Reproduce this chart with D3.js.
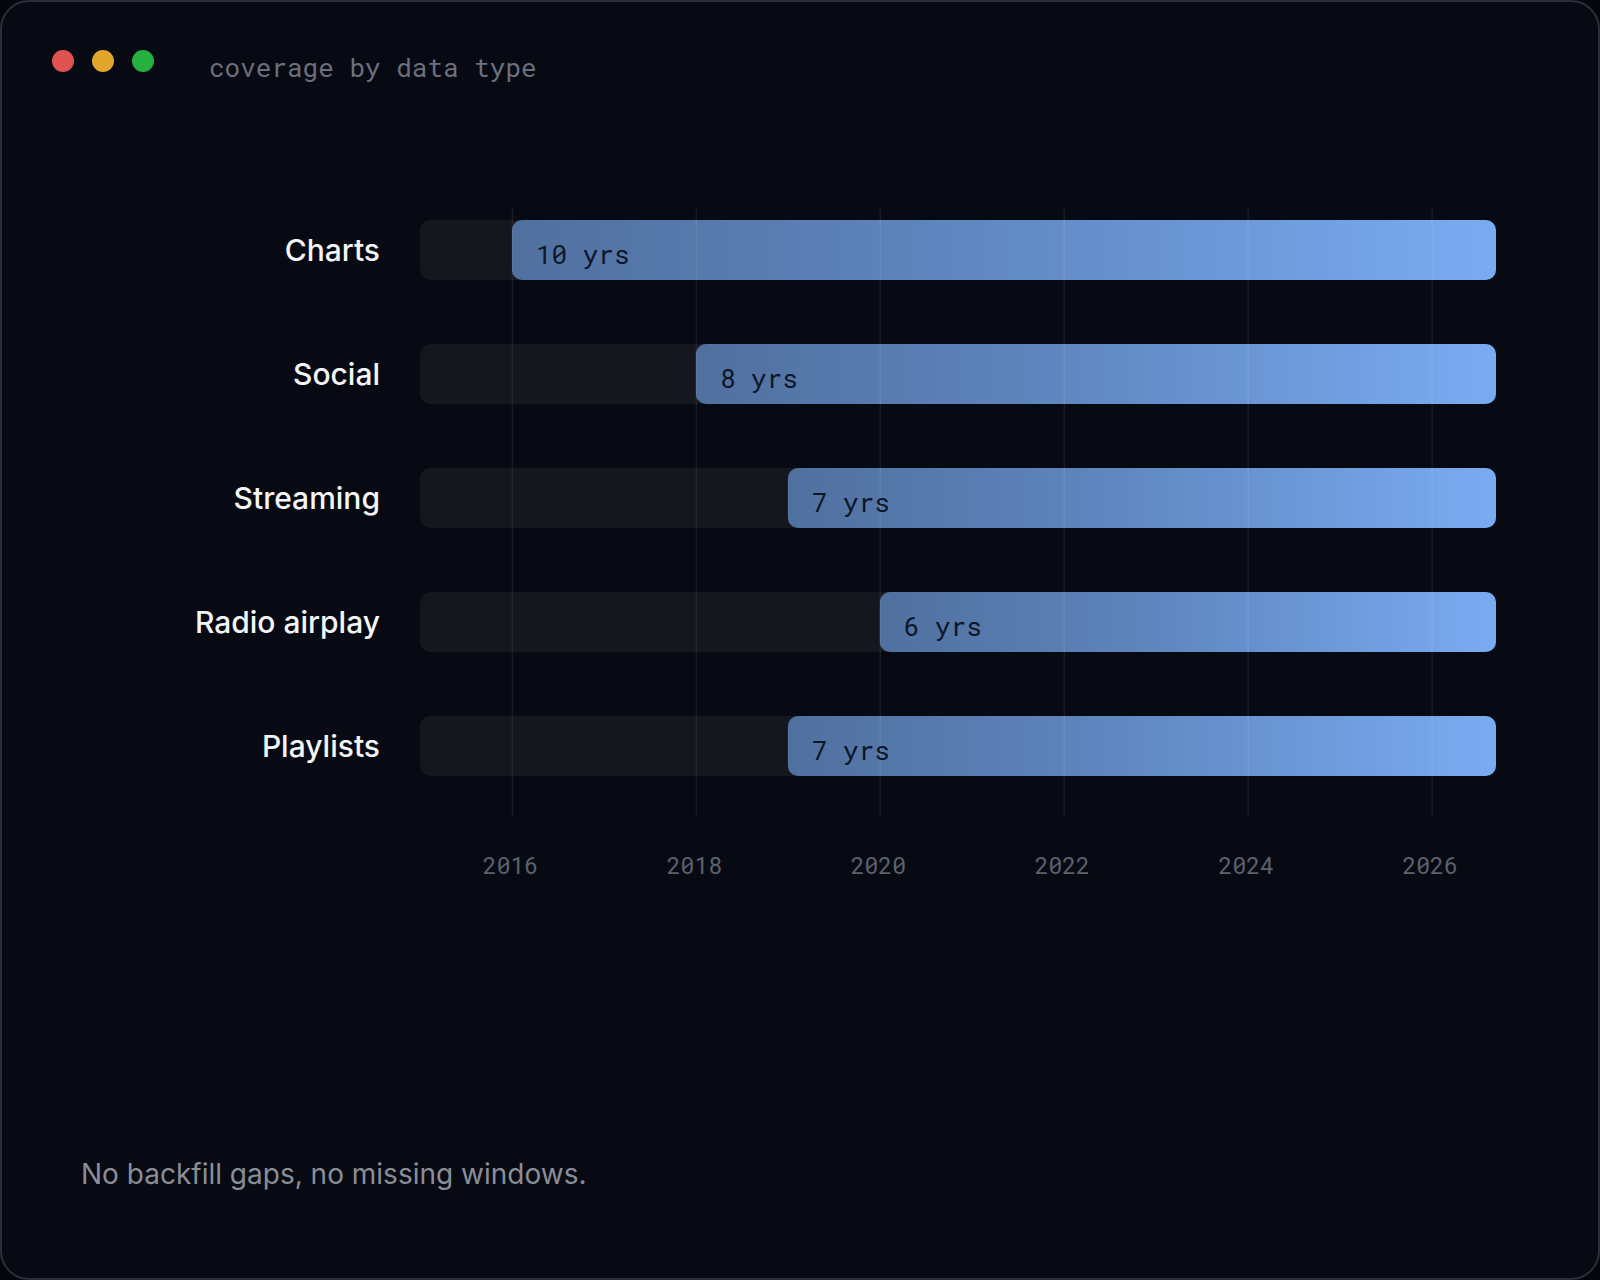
<!DOCTYPE html>
<html>
<head>
<meta charset="utf-8">
<script src="https://cdn.jsdelivr.net/npm/d3@7/dist/d3.min.js"></script>
<style>
  html, body { margin: 0; padding: 0; background: #04060b; }
  svg { display: block; }
</style>
</head>
<body>
<svg id="chart" width="1600" height="1280"></svg>
<script>
// ---- data ----
const categories = ["Charts", "Social", "Streaming", "Radio airplay", "Playlists"];
const startYears = [2016, 2018, 2019, 2020, 2019];
const endYear = 2026.7;
const coverageYears = [10, 8, 7, 6, 7];
const tickYears = [2016, 2018, 2020, 2022, 2024, 2026];
const domainStart = 2015;
const titleText = "coverage by data type";
const footerText = "No backfill gaps, no missing windows.";

const rows = categories.map((c, i) => ({ cat: c, start: startYears[i], end: endYear, yrs: coverageYears[i] }));

const W = 1600, H = 1280;
const svg = d3.select("#chart");
const mono = "'Roboto Mono', 'DejaVu Sans Mono', 'Liberation Mono', monospace";
const sans = "Inter, 'Noto Sans', Roboto, sans-serif";

// frame
svg.append("rect").attr("x", 1).attr("y", 1).attr("width", W - 2).attr("height", H - 2)
  .attr("rx", 28).attr("fill", "#070a13").attr("stroke", "#2a2e38").attr("stroke-width", 2);

// window dots
const dotColors = ["#e05353", "#e2a62d", "#24b13d"];
svg.selectAll("circle.dot").data(dotColors).join("circle")
  .attr("class", "dot").attr("cx", (d, i) => 63 + i * 40).attr("cy", 61).attr("r", 11).attr("fill", d => d);

svg.append("text").attr("x", 209).attr("y", 77).text(titleText)
  .attr("font-family", mono).attr("font-size", 26).attr("fill", "#6b707c");

// scales
const x = d3.scaleLinear().domain([domainStart, endYear]).range([420, 1496]);
const y = d3.scaleBand().domain(categories).range([188, 808]).paddingInner(0.516).paddingOuter(0.258);

// gradient
const defs = svg.append("defs");
const grad = defs.append("linearGradient").attr("id", "barGrad").attr("x1", "0%").attr("x2", "100%").attr("y1", "0%").attr("y2", "0%");
grad.append("stop").attr("offset", "0%").attr("stop-color", "#50709f");
grad.append("stop").attr("offset", "45%").attr("stop-color", "#5f86bf");
grad.append("stop").attr("offset", "100%").attr("stop-color", "#7aabf2");

const g = svg.append("g");

// tracks
g.selectAll("rect.track").data(rows).join("rect").attr("class", "track")
  .attr("x", x(domainStart)).attr("y", d => y(d.cat))
  .attr("width", x(endYear) - x(domainStart)).attr("height", y.bandwidth())
  .attr("rx", 10).attr("fill", "#15161e");

// bars
g.selectAll("rect.bar").data(rows).join("rect").attr("class", "bar")
  .attr("x", d => x(d.start)).attr("y", d => y(d.cat))
  .attr("width", d => x(d.end) - x(d.start)).attr("height", y.bandwidth())
  .attr("rx", 10).attr("fill", "url(#barGrad)");

// category labels
g.selectAll("text.cat").data(rows).join("text").attr("class", "cat")
  .attr("x", 380).attr("y", d => y(d.cat) + y.bandwidth() / 2 + 11)
  .attr("text-anchor", "end").attr("font-family", sans).attr("font-size", 30).attr("font-weight", 500)
  .attr("fill", "#f4f5f7").text(d => d.cat);

// axis with gridlines (drawn on top of bars)
const axisY = 816;
const axis = d3.axisBottom(x).tickValues(tickYears).tickFormat(d => String(d))
  .tickSizeInner(-(axisY - 208)).tickSizeOuter(0).tickPadding(42);
const ax = svg.append("g").attr("transform", `translate(0,${axisY})`).call(axis);
ax.select(".domain").remove();
ax.selectAll(".tick line").attr("stroke", "rgba(255,255,255,0.075)").attr("stroke-width", 1.5);
ax.selectAll(".tick text").attr("font-family", mono).attr("font-size", 23).attr("fill", "#5d626d")
  .attr("dx", -2);

// value labels
svg.selectAll("text.val").data(rows).join("text").attr("class", "val")
  .attr("x", d => x(d.start) + 24).attr("y", d => y(d.cat) + y.bandwidth() / 2 + 14)
  .attr("font-family", mono).attr("font-size", 26).attr("fill", "#0e1628")
  .text(d => `${d.yrs} yrs`);

// footer
svg.append("text").attr("x", 81).attr("y", 1184).text(footerText)
  .attr("font-family", sans).attr("font-size", 28).attr("fill", "#8a8e97");
</script>
</body>
</html>
